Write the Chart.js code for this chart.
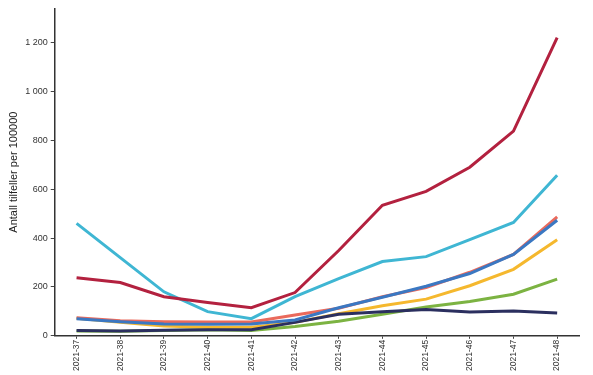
<!DOCTYPE html>
<html>
<head>
<meta charset="utf-8">
<script src="https://cdn.jsdelivr.net/npm/chart.js@4"></script>
<style>
  html, body { margin: 0; padding: 0; background: #fff; }
  #wrap { width: 593px; height: 375px; }
</style>
</head>
<body>
<div id="wrap"><canvas id="chart"></canvas></div>
<script>
const weeks = ['2021-37','2021-38','2021-39','2021-40','2021-41','2021-42','2021-43','2021-44','2021-45','2021-46','2021-47','2021-48'];

const seriesRed    = [238, 218, 160, 136, 115, 177, 349, 534, 591, 690, 838, 1220];
const seriesCyan   = [460, 320, 180, 99, 70, 160, 234, 304, 324, 394, 464, 657];
const seriesSalmon = [74, 62, 58, 57, 57, 85, 113, 160, 198, 260, 333, 487];
const seriesBlue   = [70, 58, 48, 47, 48, 65, 115, 158, 203, 255, 333, 473];
const seriesYellow = [72, 55, 40, 35, 35, 55, 90, 123, 150, 205, 272, 393];
const seriesGreen  = [20, 19, 22, 25, 22, 38, 60, 88, 118, 140, 170, 232];
const seriesNavy   = [22, 20, 23, 25, 25, 55, 88, 98, 108, 97, 102, 93];

const yTicks = [0, 200, 400, 600, 800, 1000, 1200];

function line(data, color) {
    return {
        data: data,
        borderColor: color,
        backgroundColor: color,
        borderWidth: 3,
        pointRadius: 0,
        tension: 0,
        fill: false
    };
}

document.addEventListener("DOMContentLoaded", function() {
    const ctx = document.getElementById('chart').getContext('2d');
    // first dataset is drawn on top
    new Chart(ctx, {
        type: 'line',
        data: {
            labels: weeks,
            datasets: [
                line(seriesRed, '#b3213f'),
                line(seriesCyan, '#3fb6d3'),
                line(seriesBlue, '#3b78c2'),
                line(seriesSalmon, '#ea6a5c'),
                line(seriesNavy, '#2b2f5f'),
                line(seriesYellow, '#f5b82e'),
                line(seriesGreen, '#7cb342')
            ]
        },
        options: {
            responsive: true,
            maintainAspectRatio: false,
            animation: false,
            layout: { padding: { left: 7, right: 14, top: 8, bottom: 3 } },
            plugins: {
                legend: { display: false },
                tooltip: { enabled: false }
            },
            scales: {
                y: {
                    min: 0,
                    max: 1340,
                    afterBuildTicks: function(axis) {
                        axis.ticks = yTicks.map(v => ({ value: v }));
                    },
                    grid: { drawOnChartArea: false, drawTicks: true, tickLength: 4, color: '#444' },
                    border: { display: true, color: '#333', width: 1.5 },
                    title: {
                        display: true,
                        text: 'Antall tilfeller per 100000',
                        color: '#222',
                        padding: { top: 0, bottom: 2 },
                        font: { family: 'Liberation Sans', size: 11 }
                    },
                    ticks: {
                        color: '#333',
                        padding: 3,
                        font: { family: 'Liberation Sans', size: 9 },
                        callback: function(v) {
                            return String(v).replace(/\B(?=(\d{3})+(?!\d))/g, ' ');
                        }
                    }
                },
                x: {
                    offset: true,
                    grid: { drawOnChartArea: false, drawTicks: true, tickLength: 3, color: '#444', offset: false },
                    border: { display: true, color: '#333', width: 1.5 },
                    ticks: {
                        color: '#333',
                        padding: 1,
                        maxRotation: 90,
                        minRotation: 90,
                        font: { family: 'Liberation Sans', size: 8.5 }
                    }
                }
            }
        }
    });
});
</script>
</body>
</html>
